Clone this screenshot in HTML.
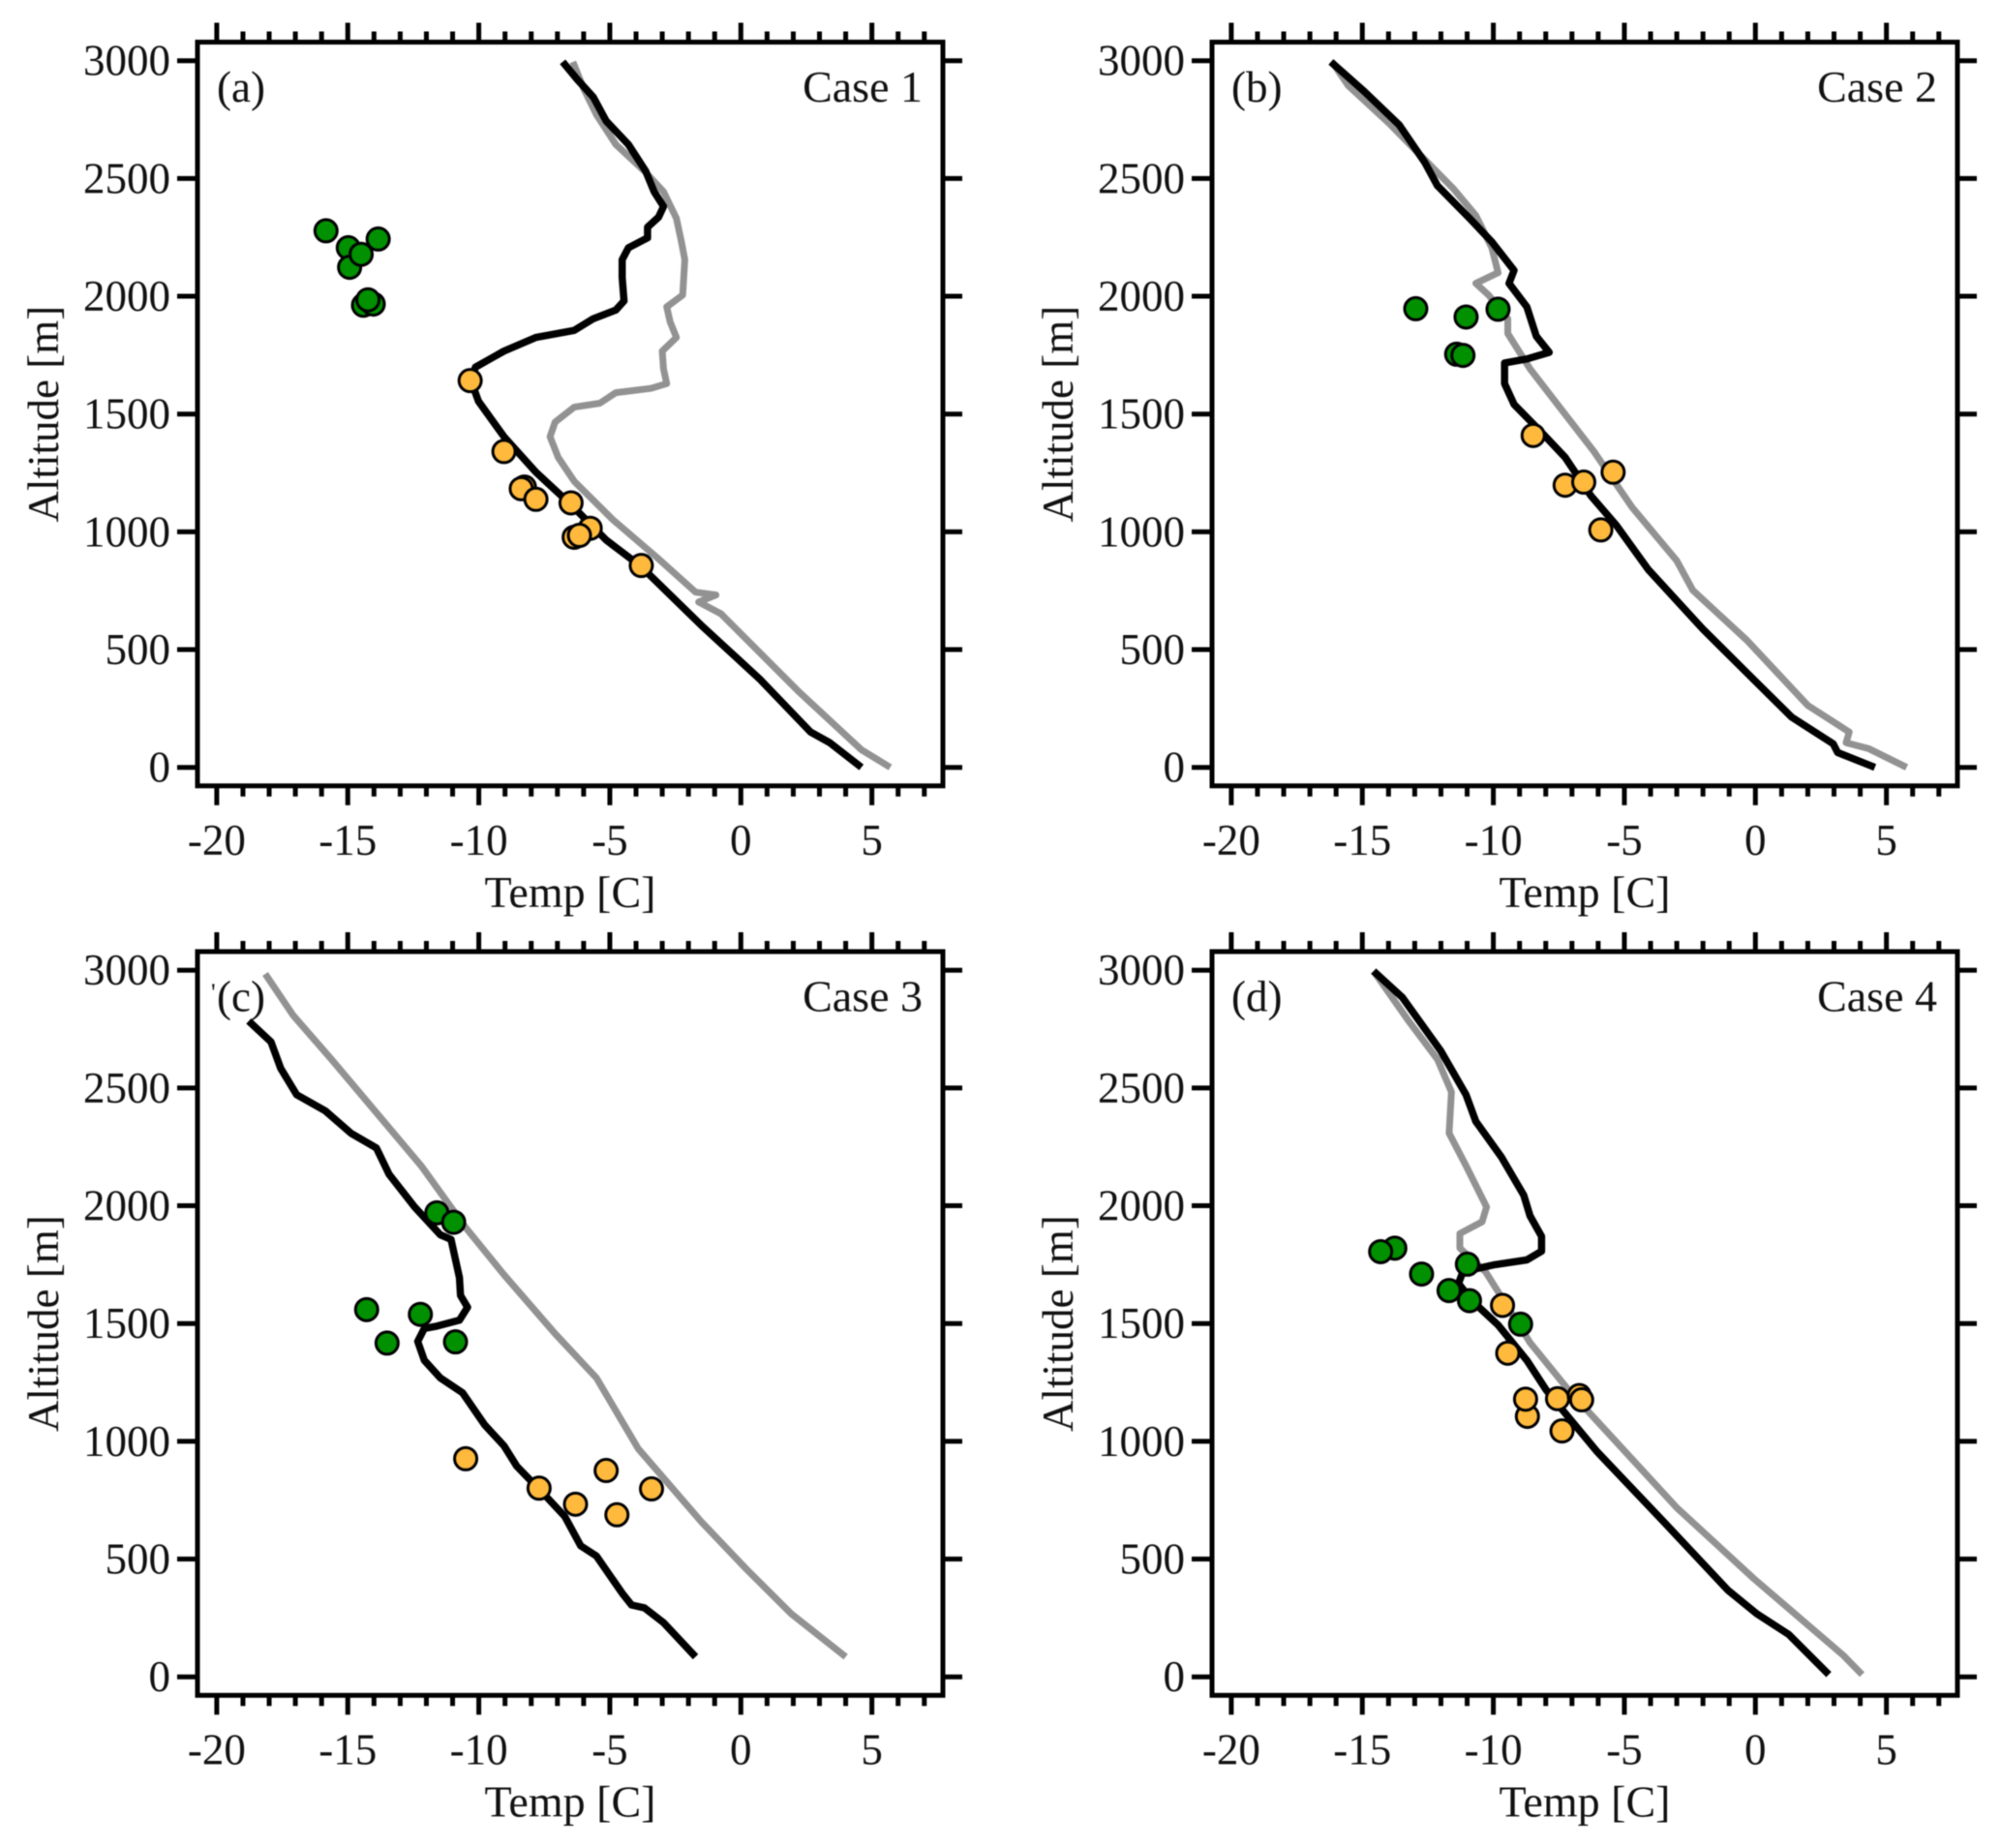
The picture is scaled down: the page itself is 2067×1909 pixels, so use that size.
<!DOCTYPE html>
<html>
<head>
<meta charset="utf-8">
<title>Temperature profiles</title>
<style>
html,body{margin:0;padding:0;background:#fff;}
svg{display:block;filter:blur(0.5px);}
text{font-family:"Liberation Serif",serif;fill:#111;}
</style>
</head>
<body>
<svg id="figure" xmlns="http://www.w3.org/2000/svg" width="2067" height="1909" viewBox="0 0 2067 1909"></svg>
<script>
const xTickValues = [-20, -15, -10, -5, 0, 5];
const xMinorTicks = [-20,-19,-18,-17,-16,-15,-14,-13,-12,-11,-10,-9,-8,-7,-6,-5,-4,-3,-2,-1,0,1,2,3,4,5,6,7];
const yTickValues = [0, 500, 1000, 1500, 2000, 2500, 3000];

const blackTempA = [-6.8,-6.24,-5.63,-5.14,-4.29,-3.63,-3.31,-2.95,-3.14,-3.56,-3.56,-4.29,-4.53,-4.53,-4.46,-4.77,-5.63,-6.36,-7.82,-9.04,-10.13,-10.3,-10.01,-9.04,-7.82,-6.48,-5.14,-3.8,-1.49,0.71,2.66,3.39,4.6];
const blackAltA = [2995,2920,2845,2744,2644,2531,2444,2381,2336,2293,2248,2206,2155,2080,1980,1942,1905,1855,1825,1767,1699,1642,1554,1404,1253,1115,965,852,601,376,150,105,0];
const grayTempA = [-6.41,-6,-5.5,-4.77,-3.68,-2.95,-2.46,-2.27,-2.14,-2.22,-2.83,-2.7,-2.46,-3,-2.95,-2.83,-3.43,-4.77,-5.38,-6.36,-7.09,-7.28,-6.97,-6.36,-4.9,-3.19,-1.73,-0.95,-1.61,-0.76,2.17,4.6,5.7];
const grayAltA = [2995,2882,2769,2644,2531,2444,2331,2231,2155,2005,1955,1892,1825,1767,1692,1629,1609,1591,1546,1529,1466,1404,1316,1215,1053,890,744,732,702,652,326,75,0];
const greenTempA = [-15.83,-14.98,-13.84,-14.93,-14.49,-14.4,-14.03,-14.23];
const greenAltA = [2278,2206,2243,2123,2178,1962,1967,1985];
const orangeTempA = [-10.33,-9.04,-8.26,-8.38,-7.82,-6.48,-5.75,-6.36,-6.16,-3.8];
const orangeAltA = [1642,1341,1190,1183,1138,1123,1015,977,985,857];

const blackTempB = [-16.2,-14.93,-13.59,-12.62,-12.13,-10.91,-10.06,-9.21,-9.4,-8.72,-8.36,-7.87,-8.72,-9.57,-9.57,-9.21,-8.11,-7.26,-6.28,-5.31,-4.09,-2.02,-0.32,1.39,2.97,3.14,4.56];
const blackAltB = [2995,2870,2727,2569,2469,2331,2231,2110,2055,1955,1830,1762,1734,1717,1629,1541,1416,1316,1153,1028,840,589,401,213,100,63,0];
const grayTempB = [-16.15,-15.54,-13.96,-12.74,-11.52,-10.67,-10.06,-9.82,-10.67,-10.18,-9.45,-9.45,-8.6,-7.38,-6.16,-4.7,-3,-2.39,-0.32,2,3.58,3.46,4.31,5.77];
const grayAltB = [2995,2895,2732,2594,2456,2343,2206,2100,2055,2005,1905,1842,1692,1516,1341,1103,877,752,539,263,150,105,80,0];
const greenTempB = [-12.96,-11.04,-9.82,-11.4,-11.16];
const greenAltB = [1947,1912,1945,1754,1749];
const orangeTempB = [-8.48,-7.26,-6.55,-5.43,-5.9];
const orangeAltB = [1409,1198,1211,1253,1008];

const blackTempC = [-18.78,-17.93,-17.56,-16.95,-15.86,-14.88,-13.91,-13.42,-12.45,-11.47,-11.06,-10.74,-10.7,-10.43,-10.74,-11.6,-12.08,-12.33,-12.08,-11.47,-10.62,-9.77,-9.04,-8.55,-7.45,-6.72,-6.11,-5.51,-4.53,-4.17,-3.68,-2.95,-1.73];
const blackAltC = [2784,2696,2583,2471,2403,2308,2245,2133,1995,1877,1857,1695,1619,1569,1514,1489,1479,1424,1344,1269,1206,1069,981,894,768,681,556,513,355,305,293,230,85];
const grayTempC = [-18.15,-17.08,-15.62,-13.91,-12.2,-10.5,-9.04,-7.09,-5.51,-3.92,-1.49,0.22,1.92,4];
const grayAltC = [2984,2808,2621,2395,2170,1907,1707,1457,1269,969,656,456,268,85];
const greenTempC = [-11.6,-10.96,-14.28,-12.23,-13.5,-10.89];
const greenAltC = [1970,1930,1559,1539,1417,1422];
const orangeTempC = [-10.5,-7.7,-6.31,-5.14,-4.73,-3.41];
const orangeAltC = [926,801,733,876,688,798];

const blackTempD = [-14.57,-13.47,-12.01,-11.04,-10.67,-9.7,-8.84,-8.6,-8.16,-8.16,-8.72,-9.94,-11.16,-11.33,-10.79,-9.82,-8.72,-7.99,-7.26,-6.04,-3.48,-1.05,0.05,1.27,2.8];
const blackAltD = [2996,2884,2658,2471,2358,2208,2045,1957,1870,1807,1770,1750,1720,1670,1594,1494,1344,1219,1119,956,656,368,268,180,10];
const grayTempD = [-14.57,-13.23,-12.13,-11.6,-11.69,-11.04,-10.26,-10.43,-11.28,-11.28,-10.3,-8.6,-7.14,-3,-0.07,3.34,4.07];
const grayAltD = [2996,2784,2621,2483,2308,2170,1995,1932,1882,1820,1720,1419,1219,718,418,93,10];
const greenTempD = [-13.76,-14.3,-12.74,-11.69,-10.91,-10.99,-8.96];
const greenAltD = [1820,1805,1710,1640,1597,1752,1497];
const orangeTempD = [-9.65,-9.45,-8.7,-8.77,-7.55,-6.72,-6.63,-7.38];
const orangeAltD = [1577,1374,1106,1179,1181,1194,1176,1044];

const svg = document.getElementById('figure');
const NS = 'http://www.w3.org/2000/svg';

function make(parent, tag, attrs, label) {
  const el = document.createElementNS(NS, tag);
  for (const k in attrs) el.setAttribute(k, attrs[k]);
  if (label !== undefined) el.textContent = label;
  parent.appendChild(el);
  return el;
}

function drawPanel(id, caseName, dx, dy, black, gray, green, orange) {
  const xScale = t => dx + 765.3 + 27.07 * t;
  const yScale = a => dy + 792.7 - 0.24333 * a;
  const left = dx + 204, right = dx + 974, top = dy + 43.5, bottom = dy + 811.8;

  const g = make(svg, 'g', {});
  
  

  const ticks = make(g, 'g', {stroke: '#000', 'stroke-width': 5, fill: 'none'});
  
  
  xMinorTicks.forEach(t => {
    const major = xTickValues.includes(t);
    const len = major ? 20 : 11;
    make(ticks, 'line', {x1: xScale(t), x2: xScale(t), y1: top, y2: top - len});
    make(ticks, 'line', {x1: xScale(t), x2: xScale(t), y1: bottom, y2: bottom + len});
  });
  yTickValues.forEach(a => {
    make(ticks, 'line', {x1: left, x2: left - 21, y1: yScale(a), y2: yScale(a)});
    make(ticks, 'line', {x1: right, x2: right + 20, y1: yScale(a), y2: yScale(a)});
  });

  const frame = make(g, 'rect', {x: left, y: top, width: right - left, height: bottom - top, fill: '#fff', stroke: '#000', 'stroke-width': 5});
  
  

  xTickValues.forEach(t => {
    const lab = make(g, 'text', {x: xScale(t), y: dy + 883, 'font-size': 45, 'text-anchor': 'middle'}, String(t));
    
    
  });
  yTickValues.forEach(a => {
    const lab = make(g, 'text', {x: left - 28, y: yScale(a) + 15, 'font-size': 45, 'text-anchor': 'end'}, String(a));
    
    
  });

  const xTitle = make(g, 'text', {x: dx + 589, y: dy + 937, 'font-size': 46, 'text-anchor': 'middle'}, 'Temp [C]');
  
  
  const cy = dy + 427.6, tx = dx + 60;
  const yTitle = make(g, 'text', {x: tx, y: cy, 'font-size': 45, 'text-anchor': 'middle', transform: 'rotate(-90 ' + tx + ' ' + cy + ')'}, 'Altitude [m]');
  
  

  const toPoints = (ts, as) => ts.map((t, i) => xScale(t).toFixed(1) + ',' + yScale(as[i]).toFixed(1)).join(' ');

  const grayLine = make(g, 'polyline', {points: toPoints(gray[0], gray[1]), fill: 'none', stroke: '#929292', 'stroke-width': 7, 'stroke-linejoin': 'round'});
  
  
  const blackLine = make(g, 'polyline', {points: toPoints(black[0], black[1]), fill: 'none', stroke: '#000', 'stroke-width': 7.5, 'stroke-linejoin': 'round'});
  
  

  green[0].forEach((t, i) => {
    const c = make(g, 'circle', {cx: xScale(t), cy: yScale(green[1][i]), r: 11.5, fill: '#009000', stroke: '#000', 'stroke-width': 3});
    
    
  });
  orange[0].forEach((t, i) => {
    const c = make(g, 'circle', {cx: xScale(t), cy: yScale(orange[1][i]), r: 11.5, fill: '#FFB93C', stroke: '#000', 'stroke-width': 3});
    
    
  });

  const tag = make(g, 'text', {x: dx + 224, y: dy + 105, 'font-size': 45}, '(' + id + ')');
  
  
  const cname = make(g, 'text', {x: dx + 953, y: dy + 105, 'font-size': 46, 'text-anchor': 'end'}, caseName);
  
  
}

drawPanel('a', 'Case 1', 0, 0, [blackTempA, blackAltA], [grayTempA, grayAltA], [greenTempA, greenAltA], [orangeTempA, orangeAltA]);
drawPanel('b', 'Case 2', 1048, 0, [blackTempB, blackAltB], [grayTempB, grayAltB], [greenTempB, greenAltB], [orangeTempB, orangeAltB]);
drawPanel('c', 'Case 3', 0, 939.5, [blackTempC, blackAltC], [grayTempC, grayAltC], [greenTempC, greenAltC], [orangeTempC, orangeAltC]);
drawPanel('d', 'Case 4', 1048, 939.5, [blackTempD, blackAltD], [grayTempD, grayAltD], [greenTempD, greenAltD], [orangeTempD, orangeAltD]);

const stray = make(svg, 'text', {x: 218, y: 1034, 'font-size': 26}, "'");


</script>
</body>
</html>
